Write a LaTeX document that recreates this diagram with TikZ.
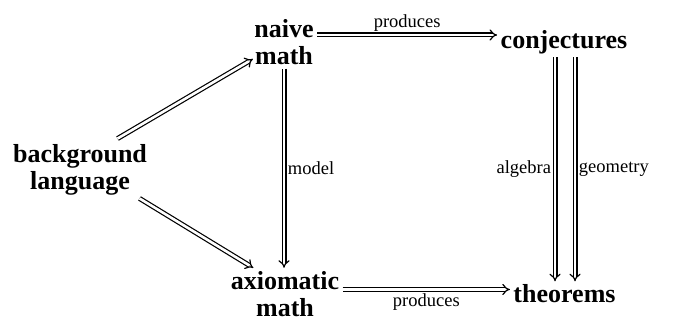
\documentclass[tikz,border=0pt]{standalone}
\usepackage{fontspec}
\setmainfont{Liberation Serif}
\usetikzlibrary{arrows.meta, calc}
\tikzset{
  obj/.style={font=\fontsize{26}{27}\selectfont\bfseries, align=center},
  arrow/.style={double, double distance=2.6pt, line width=1.2pt, -{Implies[length=7pt, width=13pt]}},
  note/.style={font=\fontsize{18.5}{22}\selectfont},
}
\begin{document}
\begin{tikzpicture}[x=1pt, y=1pt]
  \useasboundingbox (0,0) rectangle (679,320);
  \node[obj] (bg) at (80,150.5) {background\\language};
  \node[obj] (naive) at (284,277.5) {naive\\math};
  \node[obj] (conj) at (564,278) {conjectures};
  \node[obj] (axiom) at (285,26) {axiomatic\\math};
  \node[obj] (thm) at (564.5,26) {theorems};
  \draw[arrow] ($(naive.east |- conj.west)+(0,7)$) -- node[note, above] {produces} ($(conj.west)+(0,7)$);
  \draw[arrow] ($(axiom.east |- thm.west)+(0,4.5)$) -- node[note, below] {produces} ($(thm.west)+(0,4.5)$);
  \draw[arrow] (naive.south) -- node[note, right] {model} (naive.south |- axiom.north);
  \draw[arrow] ($(bg.north east)+(-33,2)$) -- ($(naive.west)+(2,-16.5)$);
  \draw[arrow] ($(bg.south east)+(-11,0)$) -- ($(axiom.north west)+(26,0)$);
  \draw[arrow] ($(conj.south)+(-9,0)$) -- node[note, left] {algebra} ($(conj.south |- thm.north)+(-9,0)$);
  \draw[arrow] ($(conj.south)+(11,0)$) -- node[note, right] {geometry} ($(conj.south |- thm.north)+(11,0)$);
\end{tikzpicture}
\end{document}
